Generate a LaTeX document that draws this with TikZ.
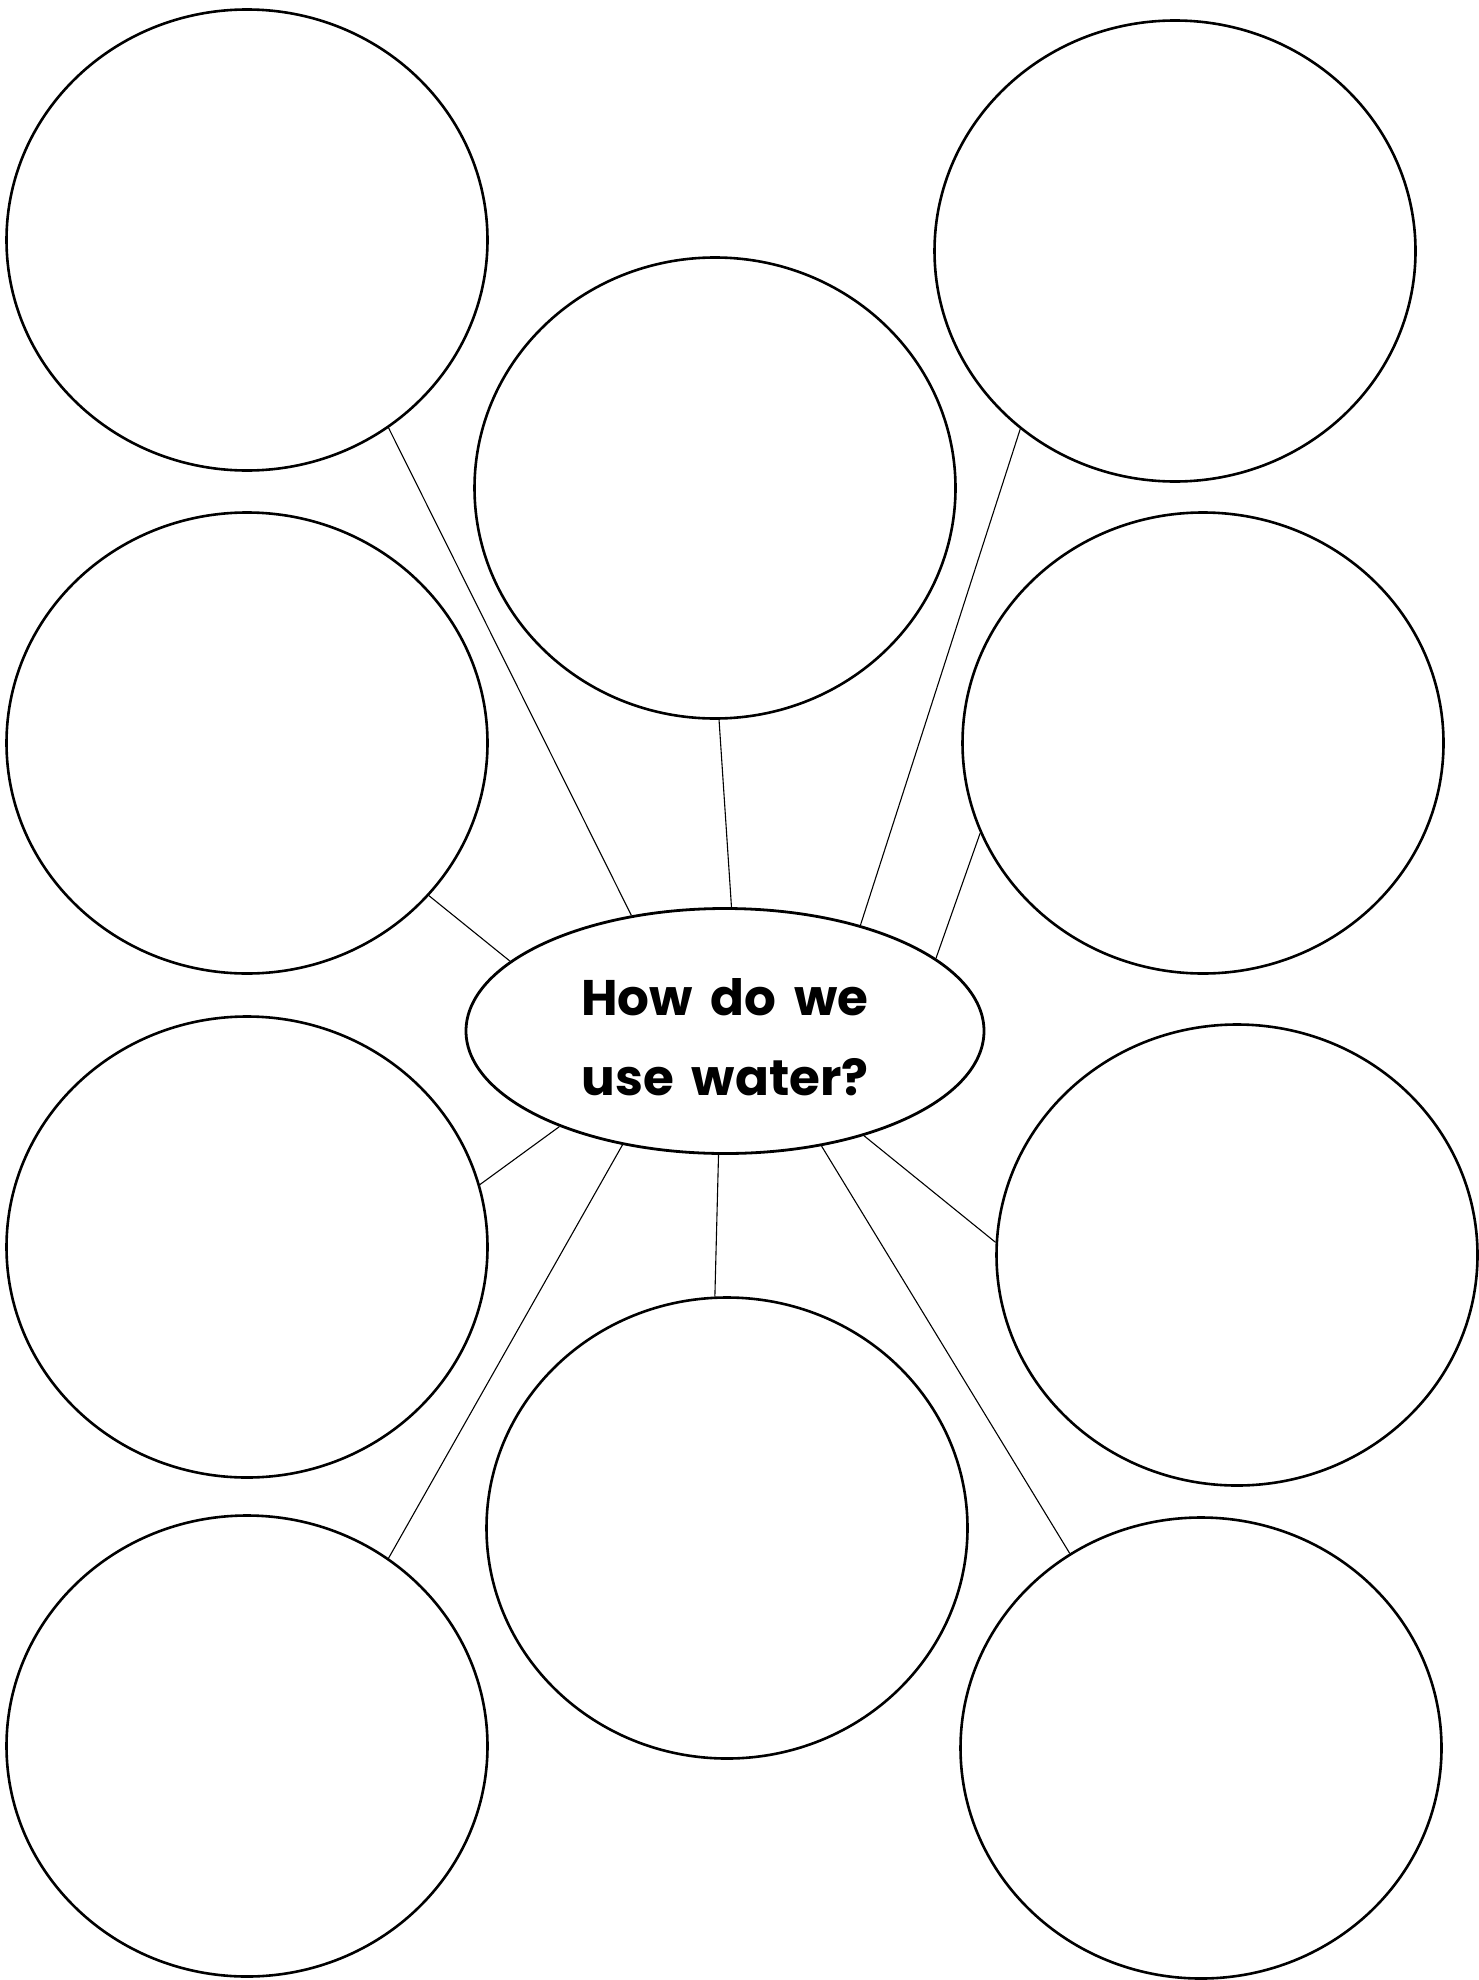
\documentclass[tikz,border=0pt]{standalone}
\usepackage{fontspec}
\setmainfont{Poppins}[WordSpace=1.7]
\usetikzlibrary{shapes.geometric}
\begin{document}
\begin{tikzpicture}[x=1pt,y=1pt,
  bubble/.style={draw=black, line width=2.6pt, ellipse, inner sep=0pt,
    minimum width=481pt, minimum height=461pt},
  hub/.style={draw=black, line width=2.8pt, ellipse, inner sep=0pt,
    minimum width=518pt, minimum height=245pt, align=center,
    font=\fontsize{50}{80}\selectfont\bfseries},
  spoke/.style={draw=black, line width=1.1pt}]
\useasboundingbox[fill=white] (0,0) rectangle (1478,-1980);
\node[bubble] (tl) at (247,-240) {};
\node[bubble] (tm) at (715,-488) {};
\node[bubble] (tr) at (1175,-251) {};
\node[bubble] (l2) at (247,-743) {};
\node[bubble] (r2) at (1203,-743) {};
\node[bubble] (l3) at (247,-1247) {};
\node[bubble] (r3) at (1237,-1255) {};
\node[bubble] (bm) at (727,-1528) {};
\node[bubble] (bl) at (247,-1746) {};
\node[bubble] (br) at (1201,-1748) {};
\node[hub] (c) at (725,-1031) {\rule{0pt}{50pt}How do we\\use water?};
\draw[spoke] (tl.-53.4) -- (c.129.9);
\draw[spoke] (tm.-89) -- (c.87.7);
\draw[spoke] (tr.-131.3) -- (c.38.9);
\draw[spoke] (l2.-40.7) -- (c.162.8);
\draw[spoke] (r2.202.3) -- (c.19.6);
\draw[spoke] (l3.15.3) -- (c.210.3);
\draw[spoke] (bl.53.5) -- (c.228.4);
\draw[spoke] (bm.93) -- (c.-93);
\draw[spoke] (br.124.6) -- (c.-50.9);
\draw[spoke] (r3.177.7) -- (c.-37);
\end{tikzpicture}
\end{document}
